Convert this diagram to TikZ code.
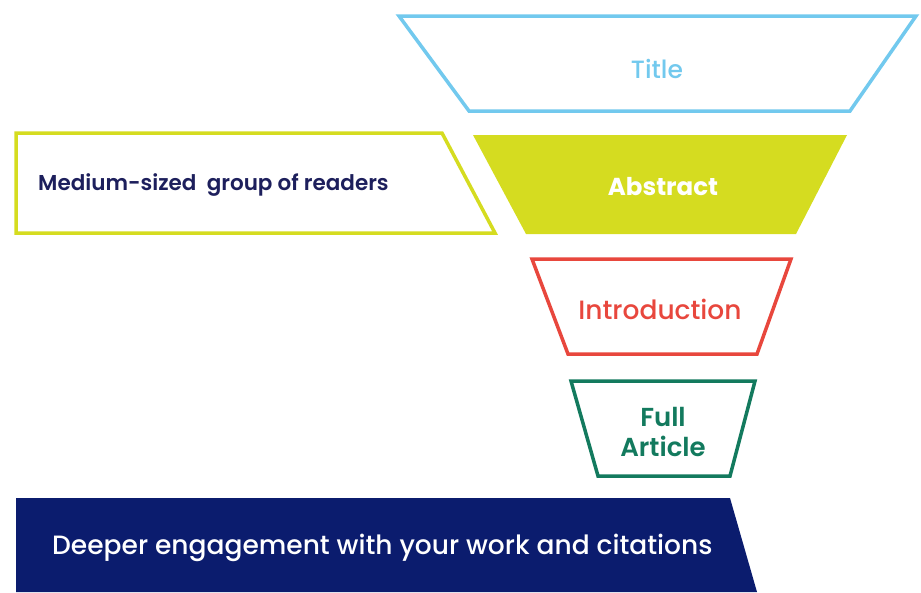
\documentclass[tikz,border=0pt]{standalone}
\usepackage{fontspec}
\setmainfont{Poppins}
\newfontfamily\popmedium{Poppins Medium}
\newfontfamily\popsemi{Poppins SemiBold}
\usepackage{tikz}
\definecolor{skyblue}{HTML}{72C9EE}
\definecolor{lime}{HTML}{D5DC20}
\definecolor{coral}{HTML}{E8473D}
\definecolor{teal}{HTML}{137A5E}
\definecolor{navy}{HTML}{0B1C6E}
\definecolor{ink}{HTML}{1D1F5C}
\tikzset{
  every picture/.style={font={\popmedium\fontsize{26.5}{30}\selectfont}}}

\begin{document}
\begin{tikzpicture}[x=1pt, y=-1pt,
    level/.style={line width=3.5pt, line join=miter, fill=white},
    solid level/.style={fill=#1, draw=none},
    levtext/.style={align=center, inner sep=0pt}]
  \useasboundingbox (0,0) rectangle (921,592);

  % funnel, widest level on top
  \draw[level, draw=skyblue] (399,16) -- (916,16) -- (850,111) -- (469,111) -- cycle;
  \fill[solid level=lime] (473,135) -- (847,135) -- (796,234) -- (526,234) -- cycle;
  \draw[level, draw=coral] (532,259) -- (791,259) -- (757,354) -- (568,354) -- cycle;
  \draw[level, draw=teal] (571,381) -- (755,381) -- (730,476) -- (598,476) -- cycle;

  % side boxes
  \draw[level, draw=lime] (16,133) -- (442,133) -- (495,233) -- (16,233) -- cycle;
  \fill[solid level=navy] (16,498) -- (730,498) -- (757,592) -- (16,592) -- cycle;

  \node[levtext, text=skyblue, font=\popmedium\fontsize{25}{30}\selectfont] (title) at (657,69) {Title};
  \node[levtext, text=white, font=\bfseries\fontsize{24.5}{30}\selectfont] (abstract) at (663,187) {Abstract};
  \node[levtext, text=coral] (intro) at (660,309) {Introduction};
  \node[levtext, text=teal, font=\popsemi\fontsize{26}{30}\selectfont] (full) at (663,432) {Full\\Article};

  \node[levtext, text=ink, font=\popsemi\fontsize{21.5}{24}\selectfont, anchor=west] (readers) at (38,185) {Medium-sized\ \ group of readers};
  \node[levtext, text=white, anchor=west] (engage) at (52,548) {Deeper engagement with your work and citations};
\end{tikzpicture}
\end{document}
